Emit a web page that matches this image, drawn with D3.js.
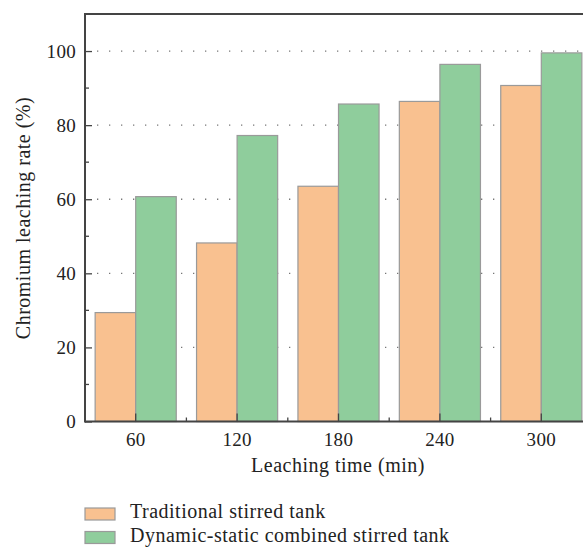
<!DOCTYPE html>
<html lang="en">
<head>
<meta charset="UTF-8">
<title>Chromium leaching rate</title>
<style>
  body { margin: 0; background: #fff; }
  svg text { font-family: "Liberation Serif", "DejaVu Serif", serif; fill: #222; }
</style>
</head>
<body>
<div class="graph"></div>
<script src="https://d3js.org/d3.v7.min.js"></script>
<script>
    var w = 583, h = 549;

    // data
    var times = ["60", "120", "180", "240", "300"];
    var traditional = [29.4, 48.2, 63.5, 86.4, 90.7];
    var dynamicStatic = [60.7, 77.2, 85.7, 96.4, 99.5];
    var seriesNames = ["Traditional stirred tank", "Dynamic-static combined stirred tank"];
    var yTicks = [0, 20, 40, 60, 80, 100];
    var yMinor = [10, 30, 50, 70, 90];

    var colors = ["#F9C190", "#8FCD9C"];
    var padL = 85, padT = 14, baseY = 421.5, plotW = 507;

    var svg = d3.select(".graph").append("svg")
        .attr("width", w).attr("height", h);

    var x = d3.scaleBand().domain(times).range([padL, padL + plotW]);
    var y = d3.scaleLinear().domain([0, 110]).range([baseY, padT]);

    // dotted grid
    svg.append("g").selectAll("line").data(yTicks.slice(1)).enter()
        .append("line")
        .attr("x1", padL + 12).attr("x2", w)
        .attr("y1", function(d) { return y(d); })
        .attr("y2", function(d) { return y(d); })
        .attr("stroke", "#777").attr("stroke-width", 1.3)
        .attr("stroke-dasharray", "1.3,10.7");

    // bars
    var series = [traditional, dynamicStatic];
    var bw = x.bandwidth() * 0.4;
    series.forEach(function(vals, s) {
        svg.append("g").selectAll("rect").data(vals).enter()
            .append("rect")
            .attr("x", function(d, i) { return x(times[i]) + x.bandwidth() * 0.1 + s * bw; })
            .attr("y", function(d) { return y(d); })
            .attr("width", bw)
            .attr("height", function(d) { return baseY - y(d); })
            .attr("fill", colors[s])
            .attr("stroke", "#9a9a9a").attr("stroke-width", 1.2);
    });

    // axes
    var axisColor = "#444";
    var yAxis = svg.append("g").attr("transform", "translate(" + padL + ",0)")
        .call(d3.axisLeft(y).tickValues(yTicks).tickSize(-7).tickPadding(9).tickFormat(d3.format("d")));
    yAxis.select(".domain").remove();
    yAxis.selectAll(".tick line").attr("stroke", axisColor).attr("stroke-width", 1.3);
    yAxis.selectAll("text").style("font-size", "19px").style("letter-spacing", "0.3px").attr("fill", "#222");
    svg.append("g").selectAll("line").data(yMinor).enter().append("line")
        .attr("x1", padL).attr("x2", padL + 4)
        .attr("y1", function(d) { return y(d); }).attr("y2", function(d) { return y(d); })
        .attr("stroke", axisColor).attr("stroke-width", 1.3);

    var xAxis = svg.append("g").attr("transform", "translate(0," + baseY + ")")
        .call(d3.axisBottom(x).tickSize(-8).tickPadding(11));
    xAxis.select(".domain").remove();
    xAxis.selectAll(".tick line").attr("stroke", axisColor).attr("stroke-width", 1.3);
    xAxis.selectAll("text").style("font-size", "19px").style("letter-spacing", "0.3px").attr("fill", "#222");
    svg.append("g").selectAll("line").data(times.slice(1)).enter().append("line")
        .attr("x1", function(d) { return x(d); }).attr("x2", function(d) { return x(d); })
        .attr("y1", baseY).attr("y2", baseY - 4)
        .attr("stroke", axisColor).attr("stroke-width", 1.3);

    // frame lines
    svg.append("line").attr("x1", padL).attr("x2", w).attr("y1", baseY).attr("y2", baseY)
        .attr("stroke", axisColor).attr("stroke-width", 2);
    svg.append("line").attr("x1", padL).attr("x2", w).attr("y1", padT).attr("y2", padT)
        .attr("stroke", axisColor).attr("stroke-width", 2);
    svg.append("line").attr("x1", padL).attr("x2", padL).attr("y1", padT - 1).attr("y2", baseY + 1)
        .attr("stroke", axisColor).attr("stroke-width", 2);

    // axis titles
    svg.append("text").attr("x", 338).attr("y", 472).attr("text-anchor", "middle")
        .style("font-size", "20px").style("letter-spacing", "0.5px").text("Leaching time (min)");
    svg.append("text").attr("transform", "translate(30,218) rotate(-90)").attr("text-anchor", "middle")
        .style("font-size", "20px").style("letter-spacing", "0.5px").text("Chromium leaching rate (%)");

    // legend
    var legend = svg.append("g").selectAll("g").data(seriesNames).enter()
        .append("g").attr("transform", function(d, i) { return "translate(85," + (508 + i * 23.5) + ")"; });
    legend.append("rect").attr("width", 30).attr("height", 12)
        .attr("fill", function(d, i) { return colors[i]; })
        .attr("stroke", "#9a9a9a").attr("stroke-width", 1.2);
    legend.append("text").attr("x", 45).attr("y", 10).style("font-size", "20px").style("letter-spacing", "0.5px")
        .text(function(d) { return d; });
</script>
</body>
</html>
